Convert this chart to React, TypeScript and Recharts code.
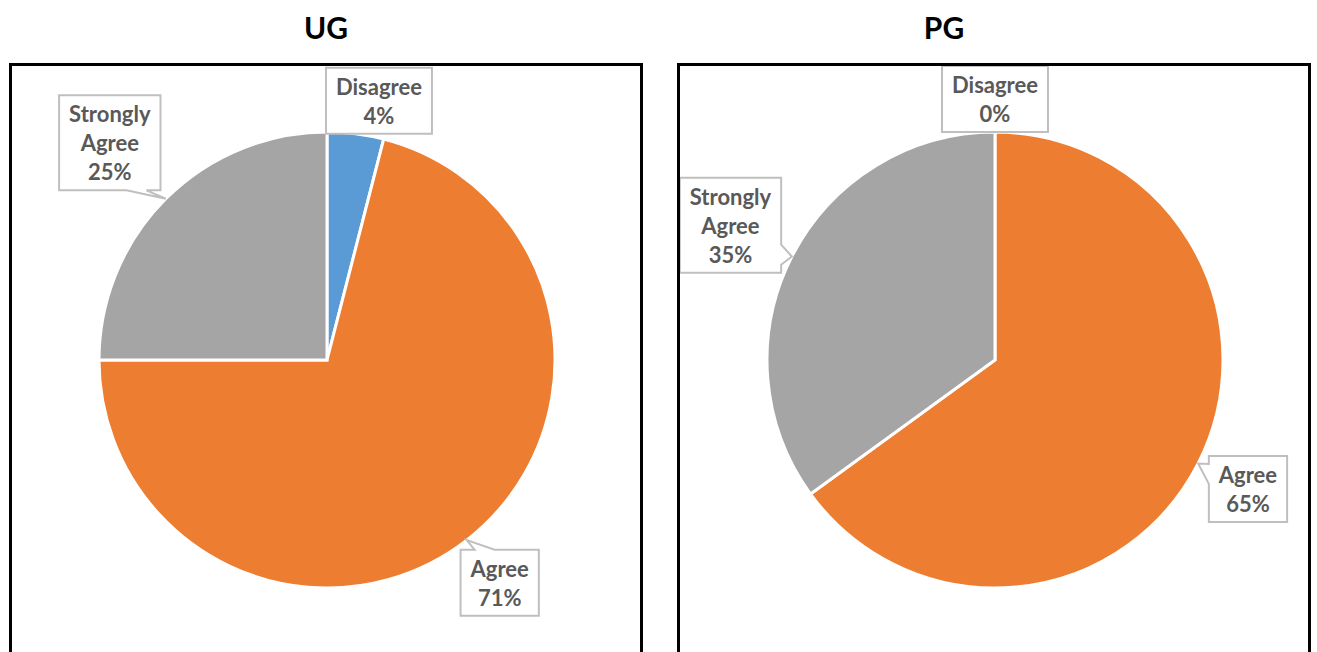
import React from "react";
import { PieChart, Pie, Cell } from "recharts";

const categories = ["Disagree", "Agree", "Strongly Agree"];
const ugValues = [4, 71, 25];
const pgValues = [0, 65, 35];
const colors = ["#5B9BD5", "#ED7D31", "#A5A5A5"];

const FONT = "Lato, 'Open Sans', sans-serif";
const LABEL_SIZE = 22;
const LINE_H = 29;
const RAD = Math.PI / 180;

let ctx: CanvasRenderingContext2D | null = null;
function textWidth(s: string) {
  if (!ctx) ctx = document.createElement("canvas").getContext("2d");
  if (!ctx) return s.length * 11;
  ctx.font = `bold ${LABEL_SIZE}px ${FONT}`;
  return ctx.measureText(s).width;
}

const clamp = (v: number, a: number, b: number) => Math.max(a, Math.min(b, v));

// Excel-style callout: box placed outside the slice, wedge pointing at the arc
function Callout(props: any) {
  const { cx, cy, midAngle, outerRadius, percent, name } = props;
  const dx = Math.cos(-midAngle * RAD);
  const dy = Math.sin(-midAngle * RAD);
  const px = cx + outerRadius * dx;
  const py = cy + outerRadius * dy;
  const lines = [...String(name).split(" "), `${Math.round(percent * 100)}%`];
  const w = Math.max(...lines.map(textWidth)) + 20;
  const h = lines.length * LINE_H + 8;

  let bx: number, by: number;
  if (dy < -0.95) {
    by = py - h / 2;
    bx = dx > 0.02 ? cx + w / 2 - 1 : px;
  } else {
    const kx = Math.abs(dx) > 1e-6 ? w / 2 / Math.abs(dx) : Infinity;
    const ky = Math.abs(dy) > 1e-6 ? h / 2 / Math.abs(dy) : Infinity;
    const k = 12 + Math.min(kx, ky);
    bx = px + dx * k;
    by = py + dy * k;
  }
  const l = bx - w / 2, r = bx + w / 2, t = by - h / 2, b = by + h / 2;

  const ox = px > r ? px - r : px < l ? l - px : 0;
  const oy = py > b ? py - b : py < t ? t - py : 0;
  const hw = 10;
  let edge = "";
  if (Math.max(ox, oy) > 4) edge = oy >= ox ? (py < t ? "top" : "bottom") : px > r ? "right" : "left";
  const bcx = clamp(px, l + 14 + hw, r - 14 - hw);
  const bcy = clamp(py, t + 8 + hw, b - 8 - hw);

  let d = `M${l},${t}`;
  if (edge === "top") d += ` L${bcx - hw},${t} L${px},${py} L${bcx + hw},${t}`;
  d += ` L${r},${t}`;
  if (edge === "right") d += ` L${r},${bcy - hw} L${px},${py} L${r},${bcy + hw}`;
  d += ` L${r},${b}`;
  if (edge === "bottom") d += ` L${bcx + hw},${b} L${px},${py} L${bcx - hw},${b}`;
  d += ` L${l},${b}`;
  if (edge === "left") d += ` L${l},${bcy + hw} L${px},${py} L${l},${bcy - hw}`;
  d += " Z";

  return (
    <g>
      <path d={d} fill="#fff" stroke="#BFBFBF" strokeWidth={2} />
      {lines.map((s, i) => (
        <text
          key={i}
          x={bx}
          y={t + 4 + LINE_H * (i + 0.5)}
          textAnchor="middle"
          dominantBaseline="central"
          fill="#595959"
          fontFamily={FONT}
          fontWeight={700}
          fontSize={LABEL_SIZE}
        >
          {s}
        </text>
      ))}
    </g>
  );
}

function PiePanel({ title, values, left, titleX }: { title: string; values: number[]; left: number; titleX: number }) {
  const data = categories.map((name, i) => ({ name, value: values[i] }));
  return (
    <>
      <div
        style={{
          position: "absolute",
          left: titleX - 60,
          width: 120,
          top: 8,
          textAlign: "center",
          fontFamily: FONT,
          fontWeight: 700,
          fontSize: 30,
          lineHeight: "38px",
          color: "#000",
        }}
      >
        {title}
      </div>
      <div
        style={{
          position: "absolute",
          left,
          top: 63,
          width: 628,
          height: 620,
          border: "3px solid #000",
          background: "#fff",
        }}
      >
        <PieChart width={628} height={620} margin={{ top: 0, right: 0, bottom: 0, left: 0 }}>
          <Pie
            data={data}
            dataKey="value"
            nameKey="name"
            cx={315}
            cy={294}
            outerRadius={228}
            startAngle={90}
            endAngle={-270}
            stroke="#fff"
            strokeWidth={3}
            labelLine={false}
            label={Callout}
            isAnimationActive={false}
          >
            {data.map((d, i) => (
              <Cell key={d.name} fill={colors[i]} />
            ))}
          </Pie>
        </PieChart>
      </div>
    </>
  );
}

export default function App() {
  return (
    <div style={{ position: "absolute", left: 0, top: 0, width: 1317, height: 652, overflow: "hidden", background: "#fff" }}>
      <PiePanel title="UG" values={ugValues} left={9} titleX={326} />
      <PiePanel title="PG" values={pgValues} left={677} titleX={944} />
    </div>
  );
}
